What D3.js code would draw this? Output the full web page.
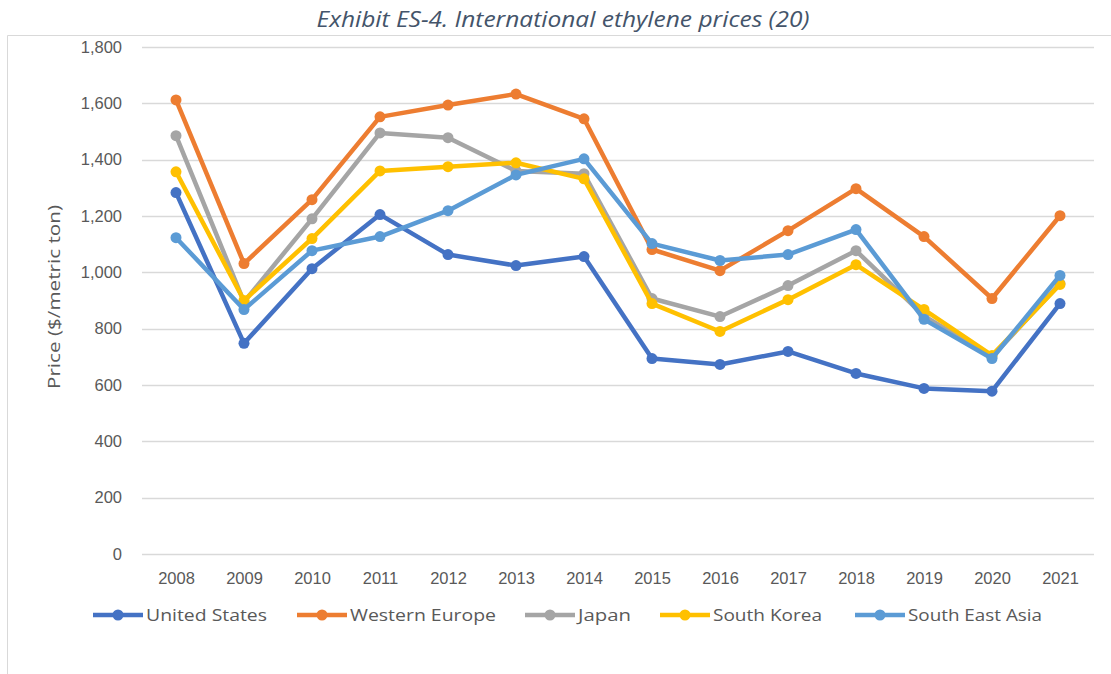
<!DOCTYPE html>
<html>
<head>
<meta charset="utf-8">
<script src="https://cdn.jsdelivr.net/npm/d3@7"></script>
<style>
  body { margin: 0; background: #fff; }
  svg { display: block; font-family: "Open Sans", sans-serif; }
</style>
</head>
<body>
<svg id="chart" width="1111" height="674"></svg>
<script>
var years = ["2008","2009","2010","2011","2012","2013","2014","2015","2016","2017","2018","2019","2020","2021"];
var yTicks = [0, 200, 400, 600, 800, 1000, 1200, 1400, 1600, 1800];

var unitedStates = [1283, 748, 1013, 1205, 1063, 1024, 1056, 694, 673, 719, 641, 588, 578, 889];
var westernEurope = [1612, 1031, 1258, 1552, 1594, 1633, 1545, 1081, 1006, 1148, 1297, 1127, 907, 1201];
var japan = [1485, 895, 1190, 1495, 1478, 1360, 1350, 907, 843, 953, 1077, 845, 700, 960];
var southKorea = [1357, 900, 1120, 1360, 1375, 1389, 1332, 889, 790, 903, 1027, 868, 705, 957];
var southEastAsia = [1123, 868, 1077, 1127, 1219, 1346, 1403, 1102, 1042, 1063, 1152, 833, 694, 989];

var seriesNames = ["United States", "Western Europe", "Japan", "South Korea", "South East Asia"];
var seriesColors = ["#4472c4", "#ed7d31", "#a5a5a5", "#ffc000", "#5b9bd5"];
var seriesValues = [unitedStates, westernEurope, japan, southKorea, southEastAsia];

var svg = d3.select("#chart");

// outer frame (top and left edges visible)
svg.append("path")
    .attr("d", "M7.5,674 V35.5 H1111")
    .attr("fill", "none")
    .attr("stroke", "#d9d9d9")
    .attr("stroke-width", 1);

svg.append("text")
    .attr("x", 563)
    .attr("y", 27)
    .attr("text-anchor", "middle")
    .attr("font-size", "22px")
    .attr("font-style", "italic")
    .attr("fill", "#44546a")
    .attr("textLength", 493)
    .attr("lengthAdjust", "spacingAndGlyphs")
    .text("Exhibit ES-4. International ethylene prices (20)");

var x = d3.scalePoint()
    .domain(years)
    .range([142, 1094])
    .padding(0.5);

var y = d3.scaleLinear()
    .domain([0, 1800])
    .range([554, 47]);

// gridlines
svg.append("g")
    .selectAll("line")
    .data(yTicks)
    .join("line")
    .attr("x1", 142)
    .attr("x2", 1094)
    .attr("y1", function (d) { return Math.round(y(d)) + 0.5; })
    .attr("y2", function (d) { return Math.round(y(d)) + 0.5; })
    .attr("stroke", "#d9d9d9")
    .attr("stroke-width", 1.5);

// y axis labels
var yAxis = svg.append("g")
    .attr("transform", "translate(122,0)")
    .call(d3.axisLeft(y).tickValues(yTicks).tickSize(0).tickPadding(0).tickFormat(d3.format(",")));
yAxis.select(".domain").remove();
yAxis.selectAll("text")
    .attr("font-size", "16.5px")
    .attr("fill", "#595959");

// x axis labels
var xAxis = svg.append("g")
    .attr("transform", "translate(0,572)")
    .call(d3.axisBottom(x).tickSize(0).tickPadding(0));
xAxis.select(".domain").remove();
xAxis.selectAll("text")
    .attr("font-size", "16.5px")
    .attr("fill", "#595959");

svg.append("text")
    .attr("transform", "translate(60,297) rotate(-90)")
    .attr("text-anchor", "middle")
    .attr("font-size", "17px")
    .attr("fill", "#595959")
    .attr("textLength", 184)
    .attr("lengthAdjust", "spacingAndGlyphs")
    .text("Price ($/metric ton)");

var line = d3.line()
    .x(function (d, i) { return x(years[i]); })
    .y(function (d) { return y(d); });

seriesValues.forEach(function (vals, k) {
    var g = svg.append("g");
    g.append("path")
        .datum(vals)
        .attr("d", line)
        .attr("fill", "none")
        .attr("stroke", seriesColors[k])
        .attr("stroke-width", 4.5)
        .attr("stroke-linejoin", "round");
    g.selectAll("circle")
        .data(vals)
        .join("circle")
        .attr("cx", function (d, i) { return x(years[i]); })
        .attr("cy", function (d) { return y(d); })
        .attr("r", 5.5)
        .attr("fill", seriesColors[k]);
});

// legend
var legendX = [93, 297, 525, 660, 855];
var legendWidths = [121, 146, 53, 109, 134];
var legend = svg.append("g");
seriesNames.forEach(function (name, k) {
    var lg = legend.append("g").attr("transform", "translate(" + legendX[k] + ",615)");
    lg.append("line")
        .attr("x1", 0).attr("x2", 50)
        .attr("y1", 0).attr("y2", 0)
        .attr("stroke", seriesColors[k])
        .attr("stroke-width", 4.5);
    lg.append("circle")
        .attr("cx", 25).attr("cy", 0).attr("r", 5.5)
        .attr("fill", seriesColors[k]);
    lg.append("text")
        .attr("x", 53)
        .attr("y", 6)
        .attr("font-size", "17px")
        .attr("fill", "#595959")
        .attr("textLength", legendWidths[k])
        .attr("lengthAdjust", "spacingAndGlyphs")
        .text(name);
});
</script>
</body>
</html>
